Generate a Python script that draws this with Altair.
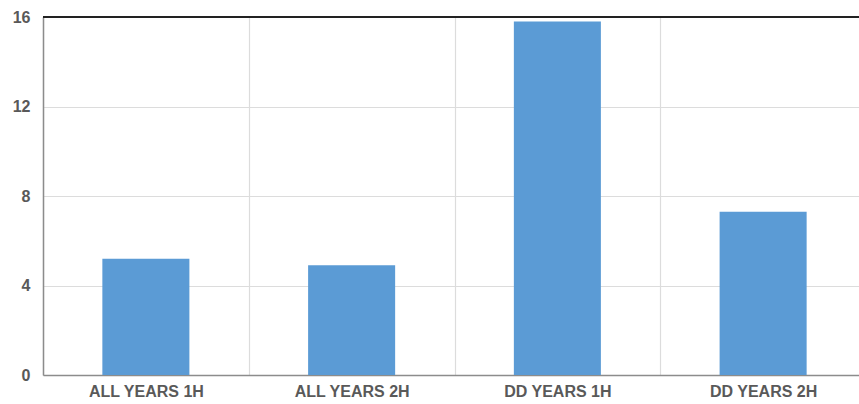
import altair as alt
import pandas as pd

categories = ["ALL YEARS 1H", "ALL YEARS 2H", "DD YEARS 1H", "DD YEARS 2H"]
values = [5.2, 4.9, 15.8, 7.3]
y_ticks = [0, 4, 8, 12, 16]

df = pd.DataFrame({"cat": categories, "val": values})

W, H = 816, 358
FONT = "Liberation Sans"
TXT = "#595959"

x_enc = alt.X(
    "cat:N",
    sort=categories,
    scale=alt.Scale(range=[0, 823], paddingInner=0, paddingOuter=0),
    axis=alt.Axis(
        title=None, labelAngle=0, labelFont=FONT, labelFontSize=16,
        labelFontWeight="bold", labelColor=TXT, labelPadding=8,
        ticks=False, grid=True, gridColor="#dcdcdc", gridWidth=1.2,
        tickBand="extent", domainColor="#8c8c8c", domainWidth=1.5,
    ),
)

y_enc = alt.Y(
    "val:Q",
    scale=alt.Scale(domain=[0, 16], nice=False),
    axis=alt.Axis(
        title=None, values=y_ticks, labelFont=FONT, labelFontSize=16,
        labelFontWeight="bold", labelColor=TXT, labelPadding=13,
        ticks=False, grid=True, gridColor="#dcdcdc", gridWidth=1.2,
        domainColor="#8c8c8c", domainWidth=1.5,
    ),
)

bars = alt.Chart(df).mark_bar(
    color="#5b9bd5", width=alt.RelativeBandSize(0.423)
).encode(x=x_enc, y=y_enc)

top_line = alt.Chart(df).mark_rule(color="#222222", strokeWidth=1.6).encode(
    y=alt.value(0), x=alt.value(0), x2=alt.value(W)
)

chart = (
    alt.layer(bars, top_line)
    .properties(
        width=W, height=H,
        autosize=alt.AutoSizeParams(type="none"),
        padding={"left": 43, "top": 17, "right": 0, "bottom": 29},
        background="white",
    )
    .configure_view(stroke=None)
)

chart.save("out.html", embed_options={"renderer": "svg", "actions": False})
